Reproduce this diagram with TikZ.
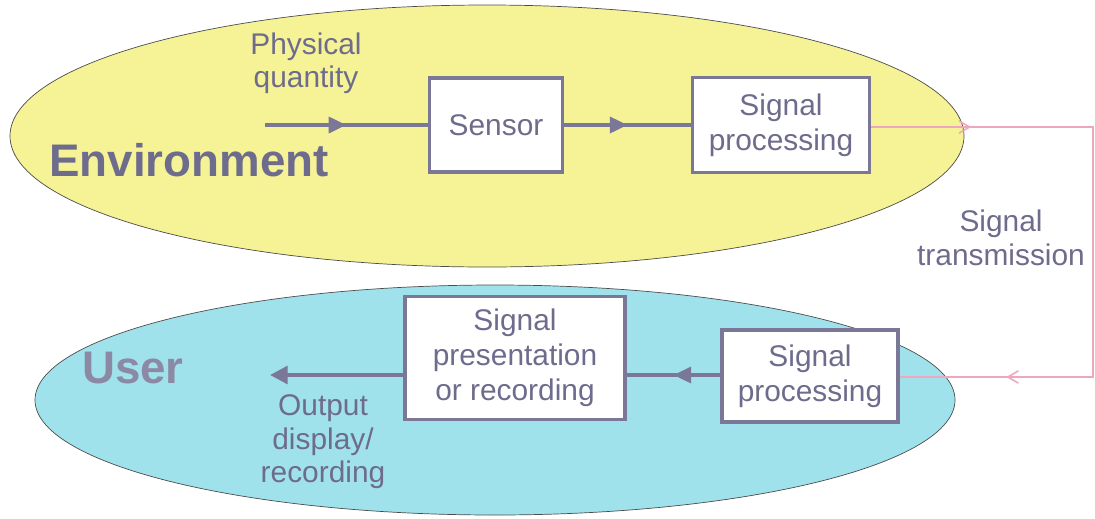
\documentclass[tikz,border=0pt]{standalone}
\usepackage{fontspec}
\setmainfont{Liberation Sans}
\usepackage{xcolor}
\usetikzlibrary{arrows.meta,decorations.markings}
\definecolor{envyellow}{RGB}{246,242,150}
\definecolor{userblue}{RGB}{160,226,236}
\definecolor{boxline}{RGB}{122,120,150}
\definecolor{txt}{RGB}{110,108,140}
\definecolor{linkpink}{RGB}{238,168,190}
\begin{document}
\begin{tikzpicture}[x=0.02cm,y=-0.02cm,
    block/.style={draw=boxline,line width=2.2pt,fill=white,text=txt,
      font=\fontsize{17}{20}\selectfont,align=center,inner sep=0pt},
    lbl/.style={text=txt,font=\fontsize{17}{19}\selectfont,align=center},
    flow/.style={draw=boxline,line width=2.2pt,postaction={decorate},
      decoration={markings,mark=at position 0.5 with {\arrow{Triangle[length=10pt,width=9pt]}}}},
    link/.style={draw=linkpink,line width=0.9pt,postaction={decorate},
      decoration={markings,
        mark=at position 0.15 with {\arrow{Straight Barb[length=6pt,width=7pt]}},
        mark=at position 0.84 with {\arrow{Straight Barb[length=6pt,width=7pt]}}}}]
      \useasboundingbox (0,0) rectangle (1095,518);
      % the two regions
      \filldraw[fill=envyellow,draw=black!70,thin] (487,136) ellipse [x radius=477,y radius=131];
      \filldraw[fill=userblue,draw=black!70,thin] (495,400) ellipse [x radius=460,y radius=115];
      \node[text=txt,font=\fontsize{26}{30}\selectfont\bfseries] (env) at (189,160) {Environment};
      \node[text=txt!80,font=\fontsize{26}{30}\selectfont\bfseries] (user) at (133,368) {User};

      % blocks
      \node[block,minimum width=133*0.02cm,minimum height=94*0.02cm] (sensor) at (496,125) {Sensor};
      \node[block,minimum width=177*0.02cm,minimum height=95*0.02cm] (proc1) at (781,125) {Signal\\processing};
      \node[block,minimum width=176*0.02cm,minimum height=92*0.02cm] (proc2) at (810,376) {Signal\\processing};
      \node[block,minimum width=220*0.02cm,minimum height=123*0.02cm] (pres) at (515,358) {Signal\\presentation\\or recording};

      \node[lbl] (phys) at (306,63) {Physical\\quantity};
      \node[lbl] (trans) at (1001,238) {Signal\\transmission};
      \node[lbl] (out) at (323,442) {Output\\display/\\recording};

      \coordinate (qin) at (265,125);
      \coordinate (qout) at (270,375);
      \coordinate (tr1) at (1093,127);
      \coordinate (tr2) at (1093,377);

      \path[flow] (qin) -- (sensor);
      \path[flow] (sensor) -- (proc1);
      \path[flow] (proc2.west |- qout) -- (pres.east |- qout);
      \draw[boxline,line width=2.2pt,-{Triangle[length=10pt,width=10pt]}] (pres.west |- qout) -- (qout);
      \path[link] (proc1.east |- tr1) -- (tr1) -- (tr2) -- (proc2.east |- tr2);
    \end{tikzpicture}
\end{document}
